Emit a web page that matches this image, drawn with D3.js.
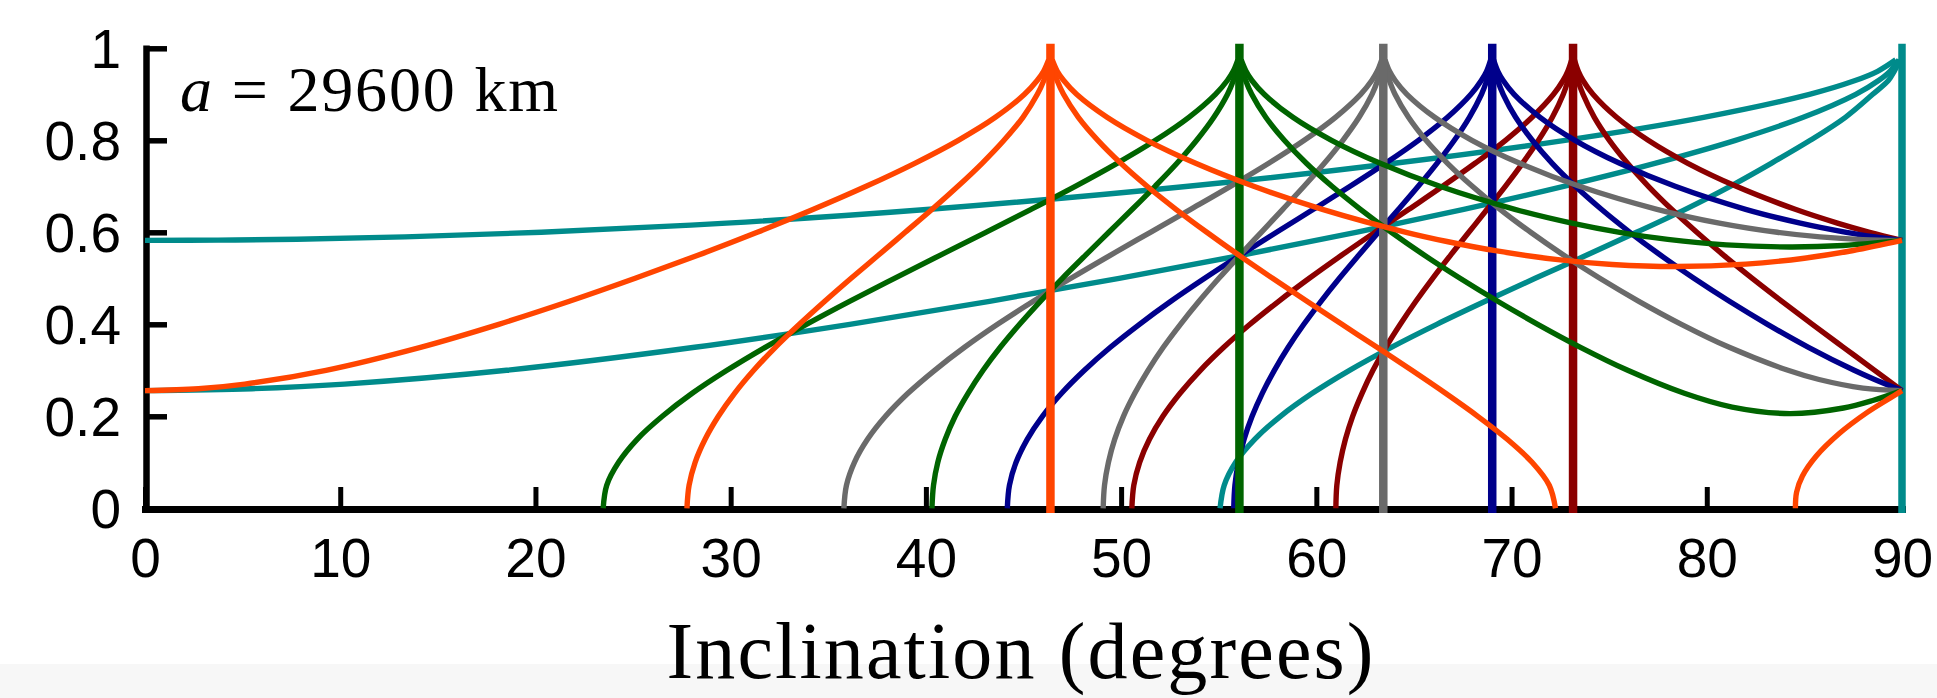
<!DOCTYPE html>
<html><head><meta charset="utf-8">
<script src="https://cdn.jsdelivr.net/npm/d3@7"></script>
<style>html,body{margin:0;padding:0;background:#fff;}svg{display:block;}</style>
</head><body>
<svg id="chart" width="1937" height="698"></svg>
<script>
// ---- Data (inclination in degrees, eccentricity) ----
const xTicks = [0,10,20,30,40,50,60,70,80,90];
const xTickLabels = ["0","10","20","30","40","50","60","70","80","90"];
const yTicks = [0,0.2,0.4,0.6,0.8,1];
const yTickLabels = ["0","0.2","0.4","0.6","0.8","1"];
const annotation = "29600 km";
const xTitle = "Inclination (degrees)";

// critical inclinations (vertical lines) and their colours
const criticalInclination = [90, 73.15, 69.01, 63.43, 56.06, 46.38];
const familyColor = ["#008b8b", "#8b0000", "#00008b", "#6a6a6a", "#006400", "#ff4500"];

const tealA = [[0,0.5824],[3.74,0.583],[7.78,0.585],[13.31,0.59],[20.3,0.6],[29.79,0.62],[40.2,0.65],[53.44,0.7],[64,0.75],[72.74,0.8],[79.84,0.85],[85.26,0.9],[87.6,0.93],[88.75,0.95],[89.68,0.975]];
const tealB = [[0,0.2558],[5.48,0.26],[10.22,0.27],[18.52,0.3],[28.16,0.35],[36.1,0.4],[43.26,0.45],[49.9,0.5],[56.15,0.55],[62.03,0.6],[67.55,0.65],[72.67,0.7],[77.34,0.75],[81.47,0.8],[84.94,0.85],[87.63,0.9],[88.8,0.93],[89.38,0.95],[89.84,0.975]];
const tealC = [[55.07,0],[55.28,0.05],[55.87,0.1],[56.84,0.15],[58.16,0.2],[59.79,0.25],[61.7,0.3],[63.84,0.35],[66.17,0.4],[68.65,0.45],[71.21,0.5],[73.83,0.55],[76.4,0.6],[78.9,0.65],[81.2,0.7],[83.3,0.75],[85.3,0.8],[87.1,0.85],[88.5,0.9],[89.3,0.93],[89.6,0.95],[89.9,0.975]];

const redA = [[50.55,0],[50.65,0.05],[50.95,0.1],[51.45,0.15],[52.14,0.2],[53.02,0.25],[54.06,0.3],[55.26,0.35],[56.6,0.4],[58.07,0.45],[59.64,0.5],[61.29,0.55],[63,0.6],[64.74,0.65],[66.47,0.7],[68.13,0.75],[69.69,0.8],[71.05,0.85],[72.15,0.9],[72.64,0.93],[72.88,0.95],[73.08,0.975]];
const redB = [[61,0],[61.05,0.05],[61.22,0.1],[61.49,0.15],[61.86,0.2],[62.34,0.25],[62.9,0.3],[63.56,0.35],[64.3,0.4],[65.1,0.45],[65.96,0.5],[66.87,0.55],[67.81,0.6],[68.75,0.65],[69.68,0.7],[70.56,0.75],[71.38,0.8],[72.09,0.85],[72.65,0.9],[72.89,0.93],[73.02,0.95],[73.12,0.975]];
const redC = [[73.22,0.975],[73.42,0.95],[73.66,0.93],[74.17,0.9],[75.38,0.85],[77,0.8],[79.03,0.75],[81.51,0.7],[84.53,0.65],[86.69,0.62],[88.34,0.6],[90,0.5824]];
const redD = [[73.18,0.975],[73.28,0.95],[73.4,0.93],[73.66,0.9],[74.24,0.85],[75.01,0.8],[75.94,0.75],[77.01,0.7],[78.2,0.65],[79.49,0.6],[80.87,0.55],[82.33,0.5],[83.85,0.45],[85.41,0.4],[87,0.35],[88.6,0.3],[90,0.2558]];

const navyA = [[44.17,0],[44.28,0.05],[44.62,0.1],[45.19,0.15],[45.97,0.2],[46.95,0.25],[48.12,0.3],[49.45,0.35],[50.94,0.4],[52.55,0.45],[54.28,0.5],[56.09,0.55],[57.96,0.6],[59.85,0.65],[61.73,0.7],[63.54,0.75],[65.23,0.8],[66.72,0.85],[67.92,0.9],[68.45,0.93],[68.72,0.95],[68.93,0.975]];
const navyB = [[55.77,0],[55.83,0.05],[56.01,0.1],[56.3,0.15],[56.71,0.2],[57.23,0.25],[57.85,0.3],[58.56,0.35],[59.36,0.4],[60.24,0.45],[61.18,0.5],[62.17,0.55],[63.18,0.6],[64.21,0.65],[65.22,0.7],[66.18,0.75],[67.07,0.8],[67.84,0.85],[68.46,0.9],[68.73,0.93],[68.86,0.95],[68.97,0.975]];
const navyC = [[69.08,0.975],[69.3,0.95],[69.57,0.93],[70.13,0.9],[71.46,0.85],[73.25,0.8],[75.54,0.75],[78.38,0.7],[81.99,0.65],[84.79,0.62],[87.15,0.6],[88.63,0.59],[90,0.5824]];
const navyD = [[69.04,0.975],[69.15,0.95],[69.29,0.93],[69.57,0.9],[70.21,0.85],[71.06,0.8],[72.08,0.75],[73.27,0.7],[74.6,0.65],[76.06,0.6],[77.64,0.55],[79.34,0.5],[81.16,0.45],[83.11,0.4],[85.21,0.35],[87.55,0.3],[88.6,0.28],[90,0.2558]];

const grayA = [[35.8,0],[35.93,0.05],[36.34,0.1],[37.01,0.15],[37.93,0.2],[39.08,0.25],[40.45,0.3],[41.98,0.35],[43.67,0.4],[45.5,0.45],[47.43,0.5],[49.44,0.55],[51.5,0.6],[53.56,0.65],[55.6,0.7],[57.56,0.75],[59.38,0.8],[60.98,0.85],[62.27,0.9],[62.84,0.93],[63.12,0.95],[63.35,0.975]];
const grayB = [[49.08,0],[49.15,0.05],[49.35,0.1],[49.67,0.15],[50.12,0.2],[50.7,0.25],[51.38,0.3],[52.16,0.35],[53.04,0.4],[53.99,0.45],[55.01,0.5],[56.08,0.55],[57.18,0.6],[58.28,0.65],[59.37,0.7],[60.41,0.75],[61.36,0.8],[62.19,0.85],[62.85,0.9],[63.14,0.93],[63.28,0.95],[63.39,0.975]];
const grayC = [[63.52,0.975],[63.75,0.95],[64.04,0.93],[64.64,0.9],[66.06,0.85],[67.97,0.8],[70.42,0.75],[73.48,0.7],[77.45,0.65],[80.64,0.62],[83.61,0.6],[85.8,0.59],[88,0.5841],[90,0.5824]];
const grayD = [[63.47,0.975],[63.59,0.95],[63.74,0.93],[64.03,0.9],[64.72,0.85],[65.62,0.8],[66.72,0.75],[67.99,0.7],[69.41,0.65],[70.98,0.6],[72.68,0.55],[74.52,0.5],[76.52,0.45],[78.7,0.4],[81.15,0.35],[84.16,0.3],[85.75,0.28],[88,0.2614],[90,0.2558]];

const greenA = [[23.47,0],[23.65,0.05],[24.26,0.1],[25.21,0.15],[26.5,0.2],[28.03,0.25],[29.81,0.3],[31.77,0.35],[33.88,0.4],[36.09,0.45],[38.39,0.5],[40.72,0.55],[43.07,0.6],[45.39,0.65],[47.65,0.7],[49.79,0.75],[51.76,0.8],[53.47,0.85],[54.83,0.9],[55.44,0.93],[55.74,0.95],[55.98,0.975]];
const greenB = [[40.31,0],[40.39,0.05],[40.61,0.1],[40.99,0.15],[41.5,0.2],[42.16,0.25],[42.93,0.3],[43.81,0.35],[44.8,0.4],[45.86,0.45],[46.99,0.5],[48.17,0.55],[49.37,0.6],[50.57,0.65],[51.74,0.7],[52.86,0.75],[53.87,0.8],[54.75,0.85],[55.45,0.9],[55.75,0.93],[55.9,0.95],[56.02,0.975]];
const greenC = [[56.15,0.975],[56.4,0.95],[56.7,0.93],[57.33,0.9],[58.8,0.85],[60.78,0.8],[63.27,0.75],[66.33,0.7],[70.17,0.65],[73.09,0.62],[75.54,0.6],[78,0.5847],[81,0.5727],[84.26,0.5682],[87,0.5714],[90,0.5824]];
const greenD = [[56.11,0.975],[56.23,0.95],[56.38,0.93],[56.69,0.9],[57.41,0.85],[58.36,0.8],[59.49,0.75],[60.8,0.7],[62.26,0.65],[63.84,0.6],[65.54,0.55],[67.36,0.5],[69.29,0.45],[71.34,0.4],[73.53,0.35],[75.95,0.3],[78.85,0.25],[81.3,0.22],[84.26,0.2059],[87,0.2181],[88.5,0.2343],[90,0.2558]];

const orangeA = [[0,0.2558],[2.74,0.26],[5.11,0.27],[9.27,0.3],[14.11,0.35],[18.12,0.4],[21.74,0.45],[25.11,0.5],[28.32,0.55],[31.36,0.6],[34.24,0.65],[36.94,0.7],[39.43,0.75],[41.66,0.8],[43.56,0.85],[45.05,0.9],[45.7,0.93],[46.03,0.95],[46.29,0.975]];
const orangeB = [[27.76,0],[27.87,0.05],[28.18,0.1],[28.69,0.15],[29.37,0.2],[30.2,0.25],[31.18,0.3],[32.29,0.35],[33.52,0.4],[34.82,0.45],[36.17,0.5],[37.56,0.55],[38.94,0.6],[40.32,0.65],[41.64,0.7],[42.88,0.75],[44,0.8],[44.97,0.85],[45.71,0.9],[46.04,0.93],[46.2,0.95],[46.33,0.975]];
const orangeC = [[46.47,0.975],[46.73,0.95],[47.06,0.93],[47.72,0.9],[49.28,0.85],[51.32,0.8],[53.82,0.75],[56.79,0.7],[60.31,0.65],[64.6,0.6],[66.69,0.58],[69.17,0.56],[72.49,0.54],[75.16,0.53],[78.46,0.5255],[82,0.5308],[85,0.5437],[87.5,0.5604],[90,0.5824]];
const orangeD = [[46.42,0.975],[46.55,0.95],[46.72,0.93],[47.05,0.9],[47.81,0.85],[48.81,0.8],[49.99,0.75],[51.33,0.7],[52.81,0.65],[54.39,0.6],[56.04,0.55],[57.76,0.5],[59.52,0.45],[61.31,0.4],[63.11,0.35],[64.89,0.3],[66.62,0.25],[68.27,0.2],[69.78,0.15],[71.05,0.1],[71.93,0.05],[72.25,0]];
const orangeE = [[84.54,0],[84.6,0.035],[84.9,0.07],[85.6,0.113],[86.8,0.163],[88.2,0.208],[89.4,0.24],[90,0.2558]];

const families = [
  [tealA, tealB, tealC],
  [redA, redB, redC, redD],
  [navyA, navyB, navyC, navyD],
  [grayA, grayB, grayC, grayD],
  [greenA, greenB, greenC, greenD],
  [orangeA, orangeB, orangeC, orangeD, orangeE]
];

// ---- Drawing ----
const W = 1937, H = 698;
const svg = d3.select("#chart");
svg.append("rect").attr("width", W).attr("height", H).attr("fill", "#ffffff");
svg.append("rect").attr("x", 0).attr("y", 664).attr("width", W).attr("height", H - 664).attr("fill", "#f7f7f7");

const x = d3.scaleLinear().domain([0, 90]).range([145, 1902]);
const y = d3.scaleLinear().domain([0, 1]).range([508.3, 48.3]);

const sans = "'Liberation Sans', Arial, Helvetica, sans-serif";
const serif = "'Liberation Serif', 'Times New Roman', serif";

// axes
const xAxis = d3.axisBottom(x).tickValues(xTicks).tickFormat((d, i) => xTickLabels[i])
  .tickSize(-22).tickSizeOuter(0).tickPadding(29);
const gx = svg.append("g").attr("transform", "translate(0,509)").call(xAxis);
gx.select(".domain").attr("stroke", "#000").attr("stroke-width", 7).attr("stroke-linecap", "square");
gx.selectAll(".tick line").attr("stroke", "#000").attr("stroke-width", 5);
gx.selectAll(".tick text").attr("font-family", sans).attr("font-size", 55).attr("fill", "#000");

const yAxis = d3.axisLeft(y).tickValues(yTicks).tickFormat((d, i) => yTickLabels[i])
  .tickSize(-21).tickSizeOuter(0).tickPadding(25);
const gy = svg.append("g").attr("transform", "translate(146,0)").call(yAxis);
gy.select(".domain").attr("stroke", "#000").attr("stroke-width", 6.5).attr("stroke-linecap", "square");
gy.selectAll(".tick line").attr("stroke", "#000").attr("stroke-width", 5.5);
gy.selectAll(".tick text").attr("font-family", sans).attr("font-size", 55).attr("fill", "#000").attr("dy", "0.355em");

// curves
const line = d3.line().x(d => x(d[0])).y(d => y(d[1])).curve(d3.curveCatmullRom.alpha(0.5));
const plot = svg.append("g").attr("fill", "none").attr("stroke-linejoin", "round");
families.forEach((curves, k) => {
  const g = plot.append("g").attr("stroke", familyColor[k]);
  curves.forEach(c => g.append("path").attr("d", line(c)).attr("stroke-width", 5.4).attr("stroke-linecap", "butt"));
  const iv = criticalInclination[k];
  g.append("path").attr("d", d3.line().x(d => x(d[0])).y(d => y(d[1]))([[iv, -0.01], [iv, 1.01]]))
    .attr("stroke-width", k === 0 ? 7.5 : 8.5);
});

// annotation
const ann = svg.append("text").attr("x", 180).attr("y", 111)
  .attr("font-family", serif).attr("font-size", 64).attr("fill", "#000")
  .attr("textLength", 378).attr("lengthAdjust", "spacing");
ann.append("tspan").attr("font-style", "italic").text("a");
ann.append("tspan").text(" = " + annotation);

// x title
svg.append("text").attr("x", 1020).attr("y", 678).attr("text-anchor", "middle")
  .attr("font-family", serif).attr("font-size", 80).attr("fill", "#000")
  .attr("textLength", 707).attr("lengthAdjust", "spacing")
  .text(xTitle);
</script>
</body></html>
